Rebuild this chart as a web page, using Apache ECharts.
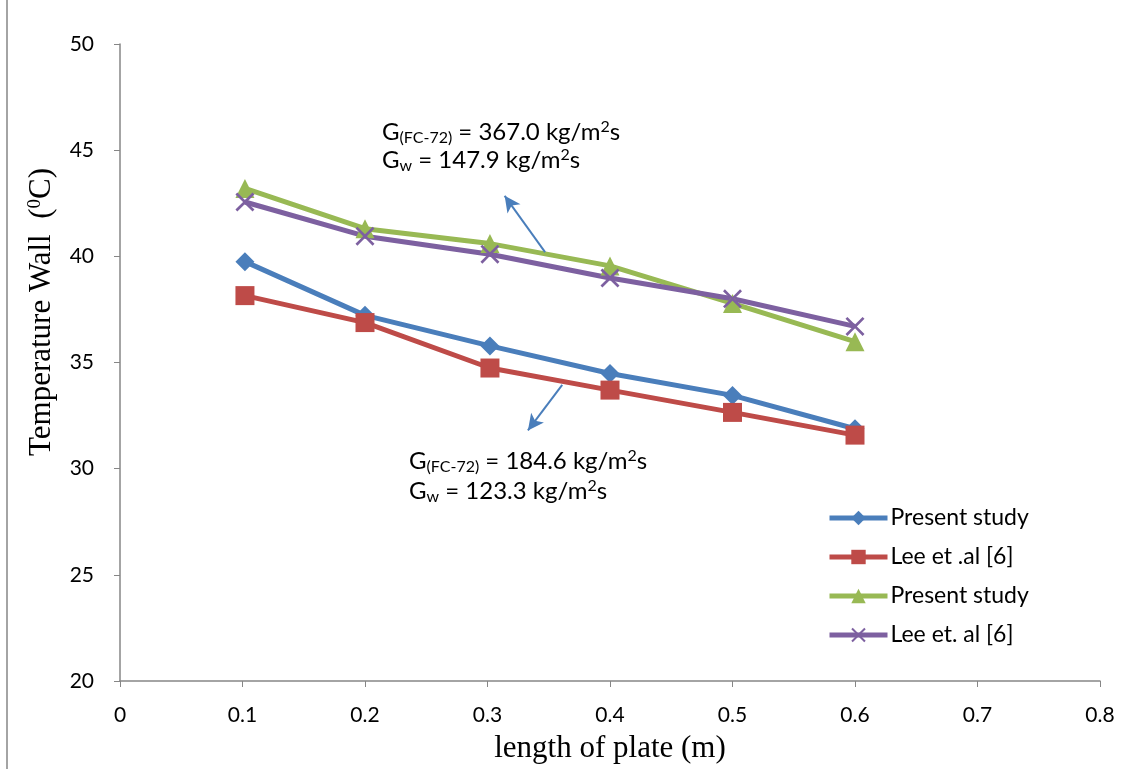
<!DOCTYPE html>
<html>
<head>
<meta charset="utf-8">
<script src="https://cdn.jsdelivr.net/npm/echarts@6/dist/echarts.min.js"></script>
<style>
  html, body { margin: 0; padding: 0; background: #fff; }
  #main { width: 1129px; height: 769px; }
</style>
</head>
<body>
<div id="main"></div>
<script>
var xValues = [0.102, 0.2, 0.302, 0.4, 0.5, 0.6];
var presentLow = [39.75, 37.22, 35.78, 34.48, 33.45, 31.88];
var leeLow = [38.15, 36.88, 34.74, 33.7, 32.65, 31.58];
var presentHigh = [43.2, 41.3, 40.6, 39.55, 37.78, 35.98];
var leeHigh = [42.56, 40.95, 40.1, 38.98, 38.0, 36.7];
var seriesNames = ['Present study', 'Lee et .al [6]', 'Present study ', 'Lee et. al [6]'];

var crossPath = 'path://M0,1L1,0L5,4L9,0L10,1L6,5L10,9L9,10L5,6L1,10L0,9L4,5Z';

function pairs(ys) {
    return xValues.map(function (x, i) { return [x, ys[i]]; });
}

var line = function (name, color, symbol, size, ys) {
    return {
        name: name,
        type: 'line',
        data: pairs(ys),
        symbol: symbol,
        symbolSize: size,
        lineStyle: { color: color, width: 5 },
        itemStyle: { color: color },
        emphasis: { disabled: true },
        z: 3
    };
};

var arrowStyle = { color: '#4a7ebb', width: 2, type: 'solid' };
var labelFont = 'Lato';

var option = {
    animation: false,
    grid: { left: 120, right: 29, top: 44, bottom: 88 },
    legend: {
        orient: 'vertical',
        left: 822,
        top: 500,
        itemWidth: 58,
        itemHeight: 18,
        itemGap: 13,
        lineStyle: { width: 5 },
        textStyle: { fontFamily: labelFont, fontSize: 23, color: '#000', lineHeight: 26, padding: [0, 0, 0, -2] },
        data: seriesNames
    },
    xAxis: {
        type: 'value',
        min: 0,
        max: 0.8,
        interval: 0.1,
        name: 'length of plate (m)',
        nameLocation: 'middle',
        nameGap: 52,
        nameTextStyle: { fontFamily: 'Liberation Serif', fontSize: 31, color: '#000' },
        axisLine: { lineStyle: { color: '#868686', width: 1.5 } },
        axisTick: { show: true, length: 6, lineStyle: { color: '#868686' } },
        axisLabel: { fontFamily: labelFont, fontSize: 21, color: '#000', margin: 24 },
        splitLine: { show: false }
    },
    yAxis: {
        type: 'value',
        min: 20,
        max: 50,
        interval: 5,
        axisLine: { show: true, lineStyle: { color: '#868686', width: 1.5 } },
        axisTick: { show: true, length: 6, lineStyle: { color: '#868686' } },
        axisLabel: { fontFamily: labelFont, fontSize: 21, color: '#000', margin: 26 },
        splitLine: { show: false }
    },
    graphic: [
        {
            type: 'rect',
            shape: { x: 7, y: -5, width: 1140, height: 790 },
            style: { fill: 'none', stroke: '#868686', lineWidth: 1.5 }
        },
        {
            type: 'text',
            left: 26,
            top: 168,
            rotation: Math.PI / 2,
            style: {
                text: 'Temperature Wall  ({sup|0}C)',
                font: '31px "Liberation Serif"',
                fill: '#000',
                rich: { sup: { fontSize: 19, verticalAlign: 'top', padding: [0, 0, 12, 0], fontFamily: 'Liberation Serif' } }
            }
        },
        {
            type: 'text',
            left: 382,
            top: 118,
            style: {
                text: 'G{sub|(FC-72)} = 367.0 kg/m{sup|2}s\nG{sub|w} = 147.9 kg/m{sup|2}s',
                font: '24px Lato',
                fill: '#000',
                lineHeight: 28,
                rich: {
                    sub: { fontSize: 16, fontFamily: labelFont, padding: [12, 0, 0, 0] },
                    sup: { fontSize: 16, fontFamily: labelFont, padding: [0, 0, 10, 0] }
                }
            }
        },
        {
            type: 'text',
            left: 409,
            top: 446,
            style: {
                text: 'G{sub|(FC-72)} = 184.6 kg/m{sup|2}s\nG{sub|w} = 123.3 kg/m{sup|2}s',
                font: '24px Lato',
                fill: '#000',
                lineHeight: 30,
                rich: {
                    sub: { fontSize: 16, fontFamily: labelFont, padding: [12, 0, 0, 0] },
                    sup: { fontSize: 16, fontFamily: labelFont, padding: [0, 0, 10, 0] }
                }
            }
        }
    ],
    series: [
        line(seriesNames[0], '#4a7ebb', 'diamond', 19, presentLow),
        line(seriesNames[1], '#be4b48', 'rect', 19, leeLow),
        line(seriesNames[2], '#98b954', 'triangle', 19, presentHigh),
        line(seriesNames[3], '#7d60a0', crossPath, 19, leeHigh),
        {
            type: 'line',
            data: [],
            markLine: {
                silent: true,
                symbol: ['none', 'arrow'],
                symbolSize: [12, 16],
                label: { show: false },
                lineStyle: arrowStyle,
                data: [
                    [{ coord: [0.347, 40.2] }, { coord: [0.314, 42.85] }],
                    [{ coord: [0.361, 33.95] }, { coord: [0.333, 31.8] }]
                ]
            }
        }
    ]
};

var myChart = echarts.init(document.getElementById('main'));
myChart.setOption(option);
</script>
</body>
</html>
